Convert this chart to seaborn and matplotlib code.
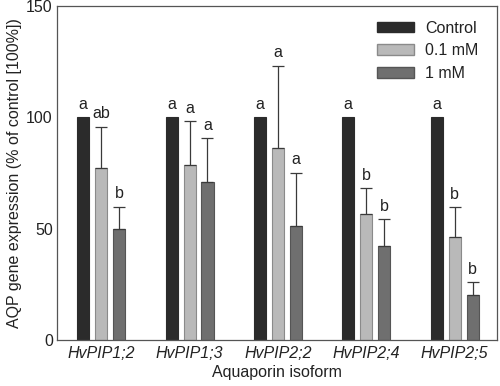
import matplotlib
matplotlib.use("Agg")
import matplotlib.pyplot as plt
import seaborn as sns
import pandas as pd
import numpy as np

isoforms = ["HvPIP1;2", "HvPIP1;3", "HvPIP2;2", "HvPIP2;4", "HvPIP2;5"]
treatments = ["Control", "0.1 mM", "1 mM"]
control_vals = [100, 100, 100, 100, 100]
low_vals = [77.4, 78.6, 86.5, 56.7, 46.2]
high_vals = [49.7, 70.8, 51.3, 42.2, 20.4]
control_err = [0, 0, 0, 0, 0]
low_err = [18.4, 19.7, 36.7, 11.4, 13.4]
high_err = [10.2, 19.8, 23.8, 12.0, 5.6]
control_letters = ["a", "a", "a", "a", "a"]
low_letters = ["ab", "a", "a", "b", "b"]
high_letters = ["b", "a", "a", "b", "b"]

rows = []
for i, iso in enumerate(isoforms):
    rows.append((iso, "Control", control_vals[i]))
    rows.append((iso, "0.1 mM", low_vals[i]))
    rows.append((iso, "1 mM", high_vals[i]))
df = pd.DataFrame(rows, columns=["isoform", "treatment", "value"])

sns.set_style("white")
plt.rcParams["font.family"] = ["Liberation Sans", "DejaVu Sans"]
FS = 11.5

colors = {"Control": "#2b2b2b", "0.1 mM": "#b9b9b9", "1 mM": "#6f6f6f"}
edges = {"Control": "#2b2b2b", "0.1 mM": "#8a8a8a", "1 mM": "#555555"}

fig = plt.figure(figsize=(5.0, 3.86), dpi=100)
ax = fig.add_axes([0.114, 0.119, 0.880, 0.865])

sns.barplot(data=df, x="isoform", y="value", hue="treatment",
            hue_order=treatments, order=isoforms, palette=colors,
            width=0.61, gap=0.33, errorbar=None, ax=ax, legend=True)

errs = {"Control": control_err, "0.1 mM": low_err, "1 mM": high_err}
vals = {"Control": control_vals, "0.1 mM": low_vals, "1 mM": high_vals}
letters = {"Control": control_letters, "0.1 mM": low_letters, "1 mM": high_letters}

for cont, t in zip(ax.containers, treatments):
    xs = []
    for p in cont.patches:
        p.set_edgecolor(edges[t])
        p.set_linewidth(0.8)
        xs.append(p.get_x() + p.get_width() / 2)
    xs = np.array(xs)
    v = np.array(vals[t]); e = np.array(errs[t])
    if e.max() > 0:
        ax.errorbar(xs, v, yerr=[np.zeros_like(e), e], fmt="none",
                    ecolor="#3a3a3a", elinewidth=0.9, capsize=4, capthick=0.9)
    for x, vv, ee, lab in zip(xs, v, e, letters[t]):
        ax.text(x, vv + ee + 2.5, lab, ha="center", va="bottom",
                fontsize=FS, color="#222222")

ax.set_ylim(0, 150)
ax.set_xlim(-0.5, 4.48)
ax.set_yticks([0, 50, 100, 150])
ax.tick_params(axis="y", direction="in", length=4, width=0.8,
               labelsize=FS, colors="#333333", pad=3)
ax.tick_params(axis="y", labelcolor="#222222")
ax.tick_params(axis="x", length=0, labelsize=FS, labelcolor="#222222", pad=4)
for lab in ax.get_xticklabels():
    lab.set_fontstyle("italic")
for s in ax.spines.values():
    s.set_color("#555555")
    s.set_linewidth(0.9)

ax.set_xlabel("Aquaporin isoform", fontsize=FS, color="#222222", labelpad=3)
ax.set_ylabel("AQP gene expression (% of control [100%])", fontsize=FS,
              color="#222222", labelpad=3)

leg = ax.legend(loc="upper right", frameon=False, fontsize=FS,
                handlelength=2.35, handleheight=0.65, labelspacing=0.48,
                handletextpad=0.65, bbox_to_anchor=(0.99, 1.0))
for h, t in zip(leg.legend_handles, treatments):
    h.set_edgecolor(edges[t])
for txt in leg.get_texts():
    txt.set_color("#222222")

fig.savefig("out.png", dpi=100)
